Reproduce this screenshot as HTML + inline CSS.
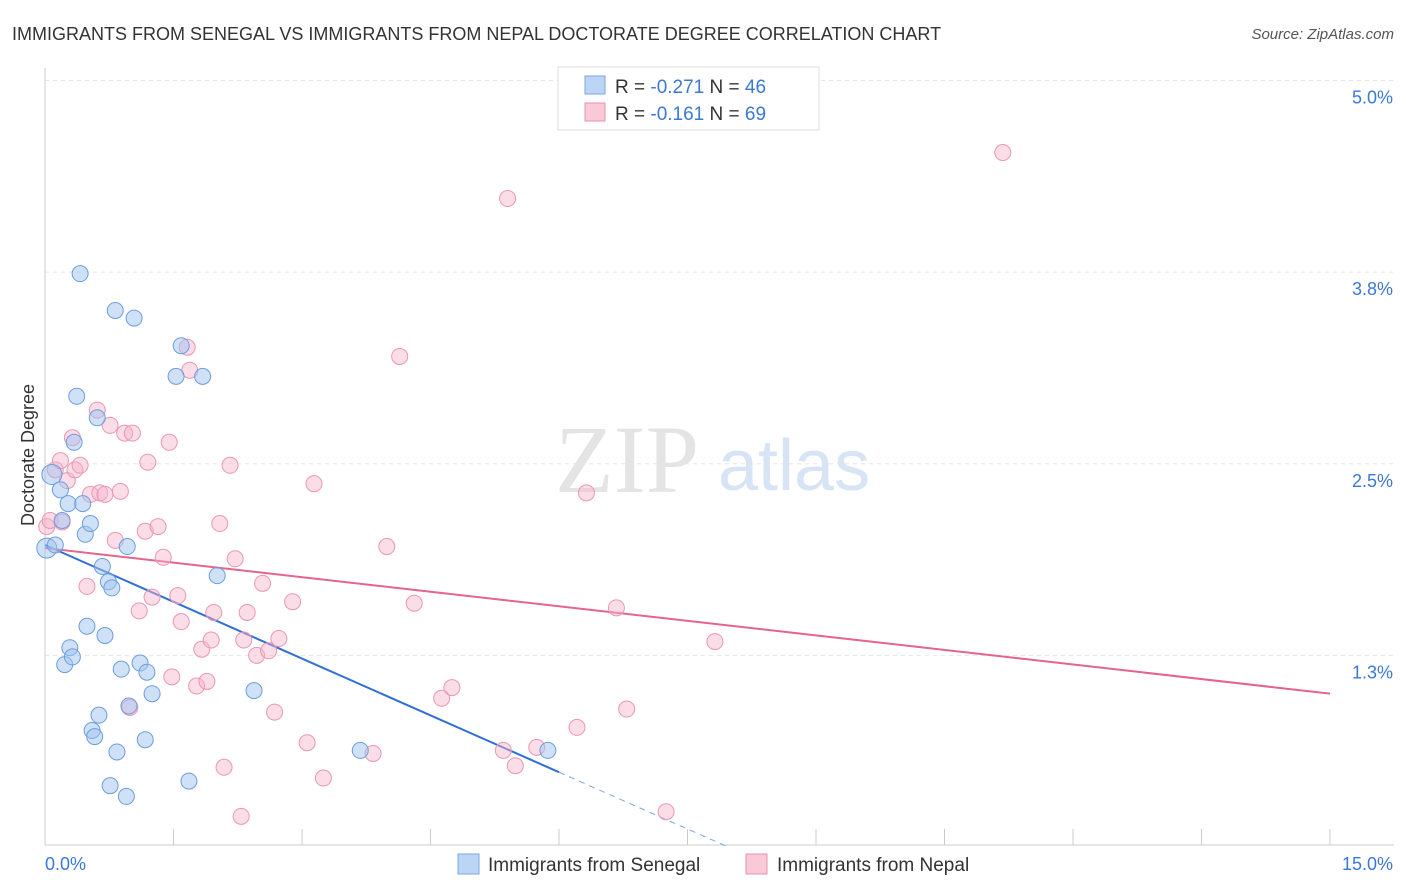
<!DOCTYPE html>
<html><head><meta charset="utf-8"><style>
body{margin:0;background:#fff;font-family:"Liberation Sans",sans-serif;}
svg{display:block}
</style></head><body>
<svg id="chart" width="1406" height="892" xmlns="http://www.w3.org/2000/svg">
<text x="12" y="40" font-size="18" fill="#333">IMMIGRANTS FROM SENEGAL VS IMMIGRANTS FROM NEPAL DOCTORATE DEGREE CORRELATION CHART</text>
<text x="1394" y="39" font-size="15" fill="#555" font-style="italic" text-anchor="end">Source: ZipAtlas.com</text>
<g>
<text x="555" y="492" font-size="96" fill="#e4e4e4" font-family="Liberation Serif,serif">ZIP</text>
<text x="718" y="490" font-size="72" fill="#d6e4f5">atlas</text>
</g>
<g id="grid"></g>
<g id="axes"></g>
<g id="trends"></g>
<g id="points"></g>
<text x="34" y="455" font-size="18" fill="#333" text-anchor="middle" transform="rotate(-90 34 455)">Doctorate Degree</text>
<g>
<rect x="558" y="67" width="261" height="63" fill="#fff" stroke="#ddd"/>
<rect x="585" y="76" width="20" height="18" fill="#bcd5f5" stroke="#7aa6e0"/>
<text x="615" y="93" font-size="19" fill="#333">R = <tspan fill="#3b78d8">-0.271</tspan>   N = <tspan fill="#3b78d8">46</tspan></text>
<rect x="585" y="103" width="20" height="18" fill="#f9c9d8" stroke="#e890ae"/>
<text x="615" y="120" font-size="19" fill="#333">R =  <tspan fill="#3b78d8">-0.161</tspan>   N = <tspan fill="#3b78d8">69</tspan></text>
</g>
<g>
<rect x="458" y="854" width="21" height="20" fill="#bcd5f5" stroke="#7aa6e0"/>
<text x="488" y="871" font-size="19" fill="#333">Immigrants from Senegal</text>
<rect x="746" y="854" width="21" height="20" fill="#f9c9d8" stroke="#e890ae"/>
<text x="777" y="871" font-size="19" fill="#333">Immigrants from Nepal</text>
</g>
</svg>
<script>
const yTicks=[1.25,2.5,3.75,5.0];
const yTickLabels=["1.3%","2.5%","3.8%","5.0%"];
const xTickLabels=["0.0%","15.0%"];
const senegalX=[.02,.08,.12,.18,.20,.23,.27,.29,.32,.34,.37,.41,.44,.47,.49,.53,.55,.58,.61,.63,.67,.70,.74,.76,.78,.82,.84,.89,.95,.96,.98,1.04,1.11,1.17,1.19,1.25,1.53,1.59,1.68,1.84,2.01,2.44,3.68,5.87];
const senegalY=[1.95,2.43,1.97,2.33,2.13,1.19,2.24,1.30,1.24,2.64,2.94,3.74,2.24,2.04,1.44,2.11,.76,.72,2.80,.86,1.83,1.38,1.73,.40,1.69,3.50,.62,1.16,.33,1.96,.92,3.45,1.20,.70,1.14,1.00,3.07,3.27,.43,3.07,1.77,1.02,.63,.63];
const nepalX=[.02,.06,.12,.18,.20,.26,.32,.35,.41,.49,.53,.61,.64,.70,.76,.82,.88,.93,.99,1.02,1.10,1.17,1.20,1.25,1.32,1.38,1.45,1.48,1.55,1.59,1.66,1.69,1.77,1.83,1.89,1.94,1.97,2.04,2.09,2.16,2.22,2.29,2.32,2.36,2.47,2.54,2.61,2.68,2.73,2.89,3.06,3.14,3.25,3.83,3.99,4.14,4.31,4.63,4.75,5.35,5.40,5.49,5.74,6.21,6.32,6.67,6.79,7.25,7.82,11.18];
const nepalY=[2.09,2.13,2.46,2.52,2.12,2.39,2.67,2.46,2.49,1.70,2.30,2.85,2.31,2.30,2.75,2.00,2.32,2.70,.91,2.70,1.54,2.06,2.51,1.63,2.09,1.89,2.64,1.11,1.64,1.47,3.26,3.11,1.05,1.29,1.08,1.35,1.53,2.11,.52,2.49,1.88,.20,1.35,1.53,1.25,1.72,1.28,.88,1.36,1.60,.68,2.37,.45,.61,1.96,3.20,1.59,.97,1.04,.63,4.23,.53,.65,.78,2.31,1.56,.90,.23,1.34,4.53];
const senegalTrend=[1.97,-0.247];
const nepalTrend=[1.95,-0.0633];
const NS="http://www.w3.org/2000/svg";
const X=v=>45+v*(1285/15), Y=v=>847-v*153.3;
function mk(tag,attrs,parent){const e=document.createElementNS(NS,tag);for(const k in attrs)e.setAttribute(k,attrs[k]);parent.appendChild(e);return e;}
const grid=document.getElementById('grid'),axes=document.getElementById('axes');
yTicks.forEach((t,i)=>{
 const l=mk('line',{x1:45,x2:1394,y1:Y(t),y2:Y(t),stroke:'#e6e6e6','stroke-dasharray':'4,4'},grid);
 
 
 const tx=mk('text',{x:1393,y:Y(t)+23,'font-size':18,fill:'#3b78d8','text-anchor':'end'},axes);
 tx.textContent=yTickLabels[i];
 
 
});
mk('line',{x1:45,x2:45,y1:68,y2:845,stroke:'#ccc'},axes);
mk('line',{x1:45,x2:1394,y1:845,y2:845,stroke:'#ccc'},axes);
for(let i=0;i<=10;i++){const t=mk('line',{x1:X(i*1.5),x2:X(i*1.5),y1:829,y2:845,stroke:'#ccc'},axes);
 
 }
[[0,45,'start'],[15,1393,'end']].forEach((a,i)=>{const t=mk('text',{x:a[1],y:870,'font-size':18,fill:'#3b78d8','text-anchor':a[2]},axes);t.textContent=xTickLabels[i];
 
 });
const tr=document.getElementById('trends');
let l1=mk('line',{x1:X(0),y1:Y(senegalTrend[0]),x2:X(6),y2:Y(senegalTrend[0]+senegalTrend[1]*6),stroke:'#2f6fd6','stroke-width':2},tr);


const xe=-senegalTrend[0]/senegalTrend[1];
let l2=mk('line',{x1:X(6),y1:Y(senegalTrend[0]+senegalTrend[1]*6),x2:X(xe),y2:Y(0),stroke:'#7fa6e0','stroke-width':1,'stroke-dasharray':'6,5'},tr);


let l3=mk('line',{x1:X(0),y1:Y(nepalTrend[0]),x2:X(15),y2:Y(nepalTrend[0]+nepalTrend[1]*15),stroke:'#e4638f','stroke-width':2},tr);


const pts=document.getElementById('points');
nepalX.forEach((x,i)=>{const c=mk('circle',{cx:X(x),cy:Y(nepalY[i]),r:8,fill:'rgba(246,180,203,0.45)',stroke:'#eb96b3','stroke-width':1},pts);
 
 });
senegalX.forEach((x,i)=>{const c=mk('circle',{cx:X(x),cy:Y(senegalY[i]),r:(i<2?10:8),fill:'rgba(160,195,240,0.5)',stroke:'#6d9de0','stroke-width':1},pts);
 
 });
</script>
</body></html>
